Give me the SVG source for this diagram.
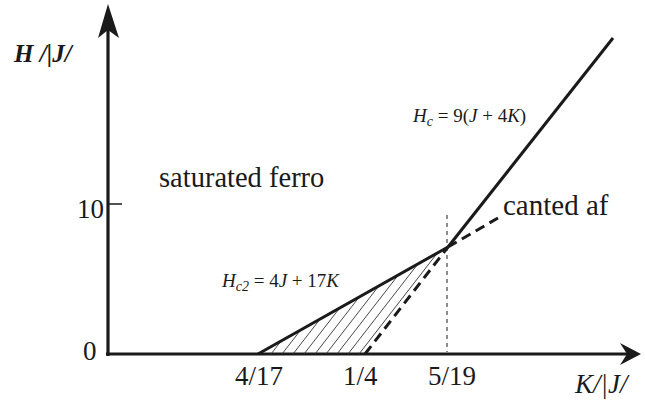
<svg xmlns="http://www.w3.org/2000/svg" width="645" height="402" viewBox="0 0 645 402">
<style>
.t{fill:#1a1a1a}
.ax{stroke:#1a1a1a;stroke-width:3.2;fill:none}
.th{stroke:#1a1a1a;stroke-width:3;fill:none;stroke-linecap:butt}
.dsh{stroke:#1a1a1a;stroke-width:3;fill:none;stroke-dasharray:10 6}
.hat{stroke:#333;stroke-width:0.9;fill:none}
</style>
<defs>
<clipPath id="tri"><polygon points="258,354 365,354 448,247"/></clipPath>
</defs>
<g id="axes">
<line class="ax" x1="108" y1="356" x2="108" y2="30"/>
<path d="M108,4 L119,38 L108,30 L98,38 Z" fill="#1a1a1a"/>
<line class="ax" x1="106" y1="354" x2="630" y2="354"/>
<path d="M641,354 L620,343 L627,354 L620,365 Z" fill="#1a1a1a"/>
<line stroke="#1a1a1a" stroke-width="1.5" x1="108" y1="204" x2="122" y2="204"/>
</g>
<g id="hatch" clip-path="url(#tri)">
<g class="hat">
<line x1="150" y1="354" x2="233" y2="247"/>
<line x1="161" y1="354" x2="244" y2="247"/>
<line x1="172" y1="354" x2="255" y2="247"/>
<line x1="183" y1="354" x2="266" y2="247"/>
<line x1="194" y1="354" x2="277" y2="247"/>
<line x1="205" y1="354" x2="288" y2="247"/>
<line x1="216" y1="354" x2="299" y2="247"/>
<line x1="227" y1="354" x2="310" y2="247"/>
<line x1="238" y1="354" x2="321" y2="247"/>
<line x1="249" y1="354" x2="332" y2="247"/>
<line x1="260" y1="354" x2="343" y2="247"/>
<line x1="271" y1="354" x2="354" y2="247"/>
<line x1="282" y1="354" x2="365" y2="247"/>
<line x1="293" y1="354" x2="376" y2="247"/>
<line x1="304" y1="354" x2="387" y2="247"/>
<line x1="315" y1="354" x2="398" y2="247"/>
<line x1="326" y1="354" x2="409" y2="247"/>
<line x1="337" y1="354" x2="420" y2="247"/>
<line x1="348" y1="354" x2="431" y2="247"/>
<line x1="359" y1="354" x2="442" y2="247"/>
</g>
</g>
<g id="connectors">
<line class="th" x1="258" y1="354" x2="448" y2="247"/>
<line class="th" x1="448" y1="247" x2="613" y2="38"/>
<line class="dsh" x1="365" y1="354" x2="448" y2="247"/>
<line class="dsh" x1="448" y1="247" x2="498" y2="218"/>
<line stroke="#1a1a1a" stroke-width="1" stroke-dasharray="4 4" x1="447" y1="215" x2="447" y2="352"/>
</g>
<g id="labels" font-family="'Liberation Serif', 'Times New Roman', serif">
<text class="t" x="14" y="62" font-size="25" font-style="italic" font-weight="bold">H /|J/</text>
<text class="t" x="159" y="187" font-size="28.5">saturated ferro</text>
<text class="t" x="503" y="215" font-size="29">canted af</text>
<text class="t" x="77" y="218" font-size="27">10</text>
<text class="t" x="83" y="360" font-size="27">0</text>
<text class="t" x="235" y="385" font-size="27">4/17</text>
<text class="t" x="343" y="385" font-size="27">1/4</text>
<text class="t" x="428" y="385" font-size="27">5/19</text>
<text class="t" x="575" y="393" font-size="27" font-style="italic">K/|J/</text>
<text class="t" x="413" y="122" font-size="19"><tspan font-style="italic">H</tspan><tspan font-style="italic" font-size="14" dy="4">c</tspan><tspan dy="-4"> = 9(</tspan><tspan font-style="italic">J</tspan> + 4<tspan font-style="italic">K</tspan>)</text>
<text class="t" x="222" y="287" font-size="19"><tspan font-style="italic">H</tspan><tspan font-style="italic" font-size="14" dy="4">c2</tspan><tspan dy="-4"> = 4</tspan><tspan font-style="italic">J</tspan> + 17<tspan font-style="italic">K</tspan></text>
</g>
</svg>
